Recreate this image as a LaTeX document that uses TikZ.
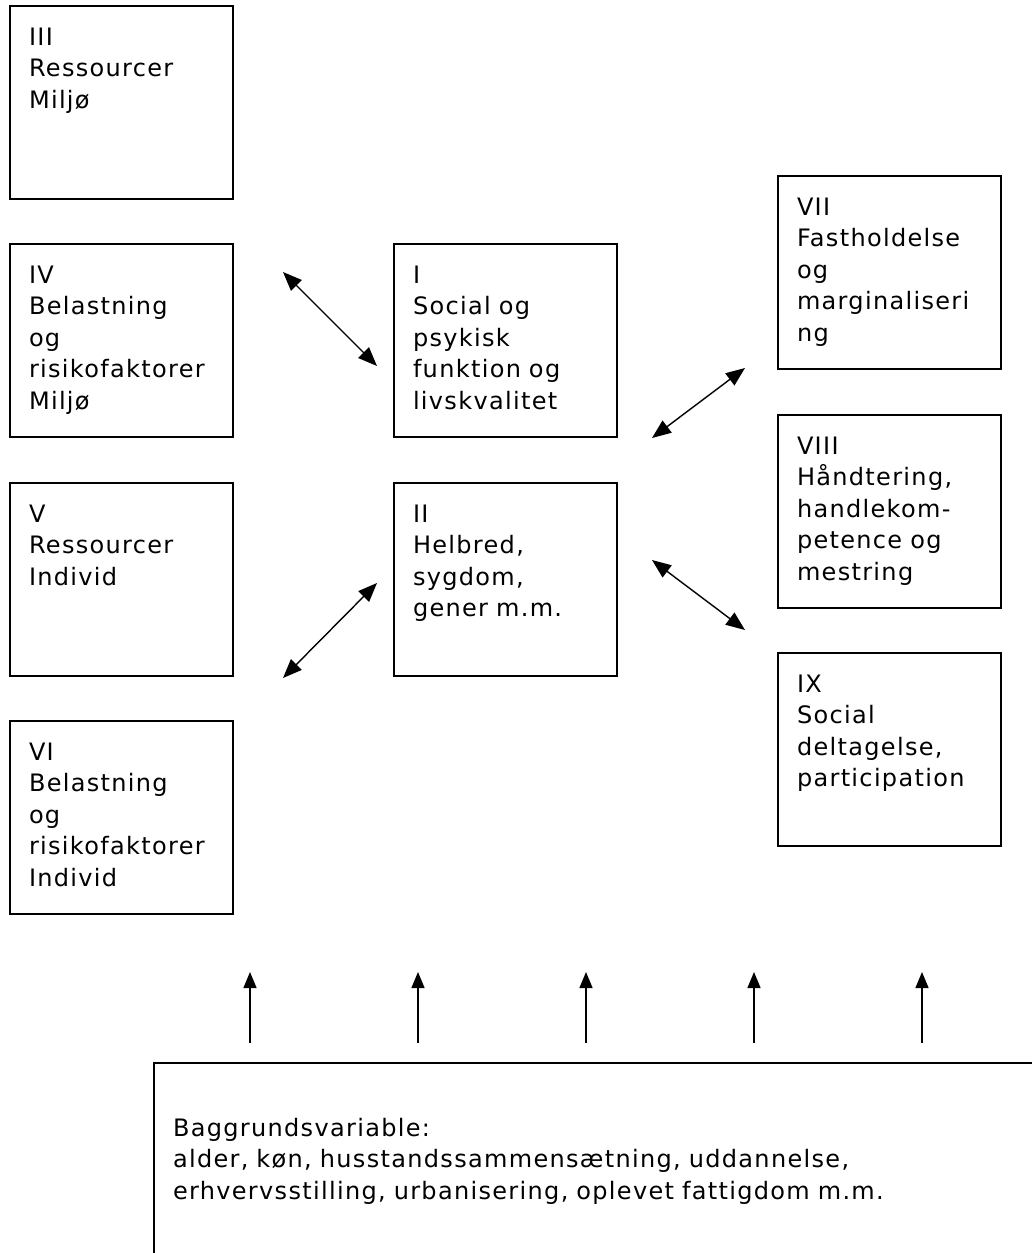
\documentclass[tikz,border=0pt]{standalone}
\usepackage{fontspec}
\setmainfont[LetterSpace=5.5]{DejaVu Sans}
\usetikzlibrary{arrows.meta}

\tikzstyle{box} = [draw,line width=1pt,outer sep=0pt,anchor=north west,
  inner xsep=9.5pt,inner ysep=8.5pt,text width=92.25pt,align=left,
  text height=11pt,text depth=68.5pt,font=\fontsize{12}{15.75}\selectfont]
\tikzstyle{wide box} = [box,text width=480pt,text height=28pt,text depth=120pt]
\tikzstyle{link} = [draw,line width=0.7pt,{Triangle[length=9.5pt,width=7.5pt]}-{Triangle[length=9.5pt,width=7.5pt]}]
\tikzstyle{up link} = [draw,line width=0.7pt,-{Triangle[length=8pt,width=6.5pt]}]

\begin{document}
\begin{tikzpicture}[x=0.5pt,y=-0.5pt]
     \clip (0,0) rectangle (1032,1253);
     % the boxes, left column, middle and right
     \foreach \pos/\name/\txt in {{(10,6)/III/{III\\Ressourcer\\Miljø}},
       {(10,244)/IV/{IV\\Belastning\\og\\risikofaktorer\\Miljø}},
       {(10,483)/V/{V\\Ressourcer\\Individ}},
       {(10,721)/VI/{VI\\Belastning\\og\\risikofaktorer\\Individ}},
       {(394,244)/I/{I\\Social og\\psykisk\\funktion og\\livskvalitet}},
       {(394,483)/II/{II\\Helbred,\\sygdom,\\gener m.m.}},
       {(778,176)/VII/{VII\\Fastholdelse\\og\\marginaliseri\\ng}},
       {(778,415)/VIII/{VIII\\Håndtering,\\handlekom-\\petence og\\mestring}},
       {(778,653)/IX/{IX\\Social\\deltagelse,\\participation}}}
     \node[box] (\name) at \pos {\txt};

     \node[wide box] (bg) at (154,1063) {Baggrundsvariable:\\
       alder, køn, husstandssammensætning, uddannelse,\\
       erhvervsstilling, urbanisering, oplevet fattigdom m.m.};

     % free ends of the double arrows
     \foreach \pos/\name in {{(283,272)/a1}, {(377,366)/b1},
       {(283,678)/a2}, {(377,583)/b2},
       {(652,438)/a3}, {(745,368)/b3},
       {(652,560)/a4}, {(745,630)/b4}}
     \path \pos coordinate (\name);

     \foreach \source/\dest in {a1/b1, a2/b2, a3/b3, a4/b4}
     \path[link] (\source) -- (\dest);

     % background variables act on everything
     \foreach \x [count=\i] in {250,418,586,754,922} {
       \coordinate (t\i) at (\x,972);
       \path[up link] (t\i |- bg.north) ++(0,-20) -- (t\i);
     }
\end{tikzpicture}
\end{document}
